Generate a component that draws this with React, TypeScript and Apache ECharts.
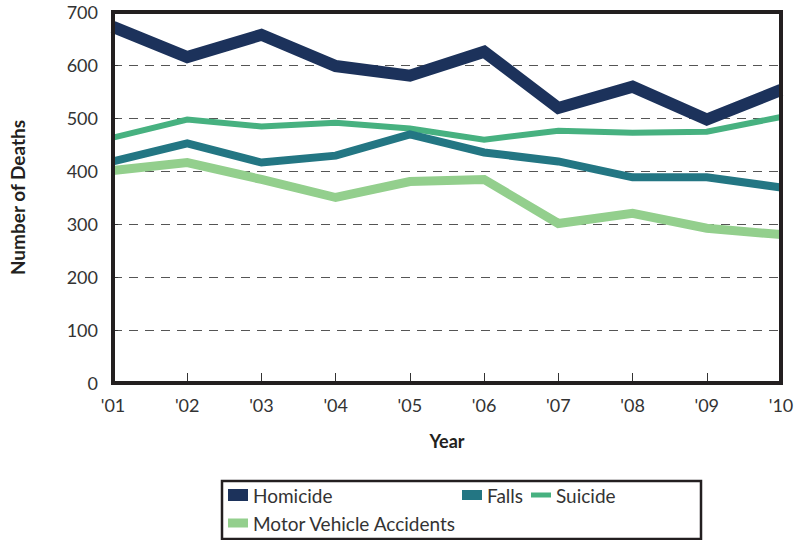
import React, { useEffect, useRef } from "react";
import * as echarts from "echarts";

const years = ["'01", "'02", "'03", "'04", "'05", "'06", "'07", "'08", "'09", "'10"];
const homicide = [672, 615, 657, 598, 580, 625, 519, 559, 497, 553];
const falls = [418, 452, 416, 429, 469, 435, 418, 388, 388, 369];
const suicide = [463, 497, 484, 491, 480, 459, 476, 472, 474, 502];
const motorVehicle = [401, 416, 384, 350, 380, 384, 301, 320, 292, 280];

const FONT = "Lato";
const TXT = "#333333";

export default function App() {
  const ref = useRef<HTMLDivElement>(null);
  useEffect(() => {
    const chart = echarts.init(ref.current!, null, { renderer: "svg" });
    const mkLegend = (name: string, left: number, cy: number, h: number) => ({
      data: [name],
      left,
      top: cy - 11,
      orient: "horizontal",
      icon: "rect",
      itemWidth: 20,
      itemHeight: h,
      padding: 0,
      textStyle: { fontFamily: FONT, fontSize: 19, color: TXT, lineHeight: 22 },
    });
    chart.setOption({
      animation: false,
      grid: {
        left: 108,
        right: 28,
        top: 12,
        bottom: 157,
        show: true,
        borderColor: "#231f20",
        borderWidth: 4,
        z: 10,
      },
      xAxis: {
        type: "category",
        data: years,
        boundaryGap: false,
        name: "Year",
        nameLocation: "middle",
        nameGap: 49,
        nameTextStyle: { fontFamily: FONT, fontSize: 18, fontWeight: "bold", color: "#231f20" },
        axisLine: { show: true, lineStyle: { color: "#231f20", width: 4 } },
        axisTick: { show: true, inside: true, length: 10, lineStyle: { color: "#333", width: 1 } },
        axisLabel: { fontFamily: FONT, fontSize: 18, color: TXT, margin: 13 },
        splitLine: { show: false },
      },
      yAxis: {
        type: "value",
        min: 0,
        max: 700,
        interval: 100,
        name: "Number of Deaths",
        nameLocation: "middle",
        nameGap: 86,
        nameTextStyle: { fontFamily: FONT, fontSize: 19, fontWeight: "bold", color: "#231f20", letterSpacing: 1 },
        axisLine: { show: true, lineStyle: { color: "#231f20", width: 4 } },
        axisTick: { show: true, inside: true, length: 5, lineStyle: { color: "#333", width: 1 } },
        axisLabel: { fontFamily: FONT, fontSize: 18, color: TXT, margin: 15 },
        splitLine: { show: true, lineStyle: { color: "#555", type: [9, 7], width: 1 } },
      },
      legend: [
        mkLegend("Homicide", 228, 495, 12),
        mkLegend("Falls", 462, 495, 10),
        mkLegend("Suicide", 531, 495, 5),
        mkLegend("Motor Vehicle Accidents", 228, 523, 9),
      ],
      graphic: [
        {
          type: "rect",
          shape: { x: 222, y: 481, width: 479, height: 58 },
          style: { fill: "none", stroke: "#231f20", lineWidth: 2.5 },
          z: 100,
        },
      ],
      series: [
        {
          name: "Motor Vehicle Accidents",
          type: "line",
          data: motorVehicle,
          showSymbol: false,
          symbol: "none",
          lineStyle: { color: "#93cf8d", width: 9, join: "miter", cap: "butt" },
          itemStyle: { color: "#93cf8d" },
        },
        {
          name: "Suicide",
          type: "line",
          data: suicide,
          showSymbol: false,
          symbol: "none",
          lineStyle: { color: "#47b180", width: 6, join: "miter", cap: "butt" },
          itemStyle: { color: "#47b180" },
        },
        {
          name: "Falls",
          type: "line",
          data: falls,
          showSymbol: false,
          symbol: "none",
          lineStyle: { color: "#237683", width: 8, join: "miter", cap: "butt" },
          itemStyle: { color: "#237683" },
        },
        {
          name: "Homicide",
          type: "line",
          data: homicide,
          showSymbol: false,
          symbol: "none",
          lineStyle: { color: "#1c325b", width: 12, join: "miter", cap: "butt" },
          itemStyle: { color: "#1c325b" },
        },
      ],
    });
    return () => chart.dispose();
  }, []);
  return (
    <div
      ref={ref}
      style={{ position: "absolute", left: 0, top: 0, width: 809, height: 540, background: "#fff" }}
    />
  );
}
